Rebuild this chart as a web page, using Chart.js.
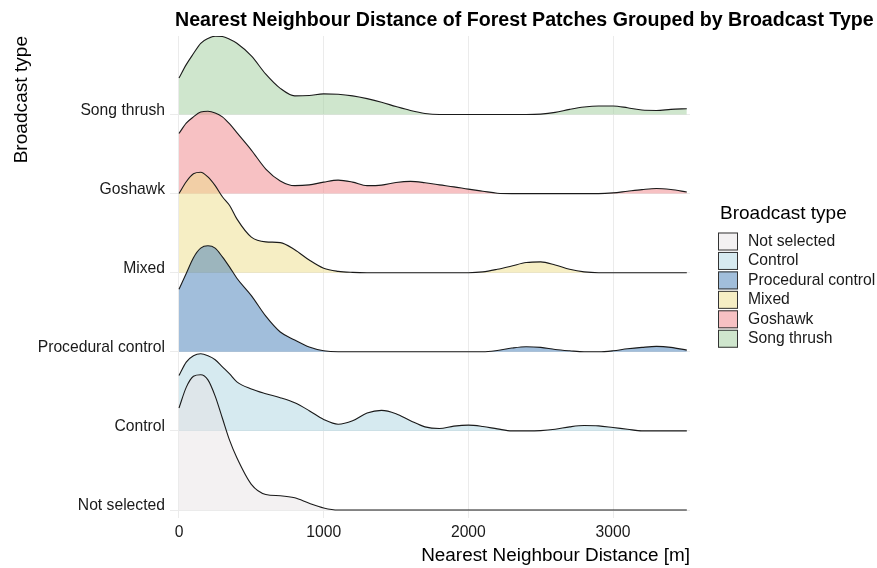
<!DOCTYPE html>
<html>
<head>
<meta charset="utf-8">
<title>Nearest Neighbour Distance of Forest Patches</title>
<script src="https://cdn.jsdelivr.net/npm/chart.js@4.4.1/dist/chart.umd.min.js"></script>
<style>
  html, body { margin: 0; padding: 0; background: #ffffff; }
  #wrap { width: 877px; height: 568px; }
</style>
</head>
<body>
<div id="wrap"><canvas id="ridges" width="877" height="568"></canvas></div>
<script>
// Broadcast types, bottom ridge first
const broadcastTypes = ['Not selected', 'Control', 'Procedural control', 'Mixed', 'Goshawk', 'Song thrush'];

// Sample positions along the distance axis [m]
const distance = [0, 50, 100, 150, 200, 250, 300, 350, 400, 500, 600, 700, 800, 900, 1000,
  1100, 1200, 1300, 1400, 1500, 1600, 1700, 1800, 1900, 2000, 2100, 2200, 2300, 2400, 2500,
  2600, 2700, 2800, 2900, 3000, 3100, 3200, 3300, 3400, 3510];

// Scaled density heights of each ridge (1 = one row of spacing)
const notSelected = [1.29, 1.55, 1.69, 1.71, 1.645, 1.44, 1.16, 0.88, 0.66, 0.325, 0.197, 0.18, 0.154, 0.085, 0.026,
  0, 0, 0, 0, 0, 0, 0, 0, 0, 0, 0, 0, 0, 0, 0, 0, 0, 0, 0, 0, 0, 0, 0, 0, 0];
const control = [0.70, 0.87, 0.95, 0.975, 0.95, 0.90, 0.81, 0.72, 0.62, 0.53, 0.47, 0.42, 0.355, 0.256, 0.145,
  0.085, 0.128, 0.226, 0.26, 0.218, 0.128, 0.051, 0.03, 0.06, 0.073, 0.056, 0.026, 0, 0, 0.004,
  0.021, 0.051, 0.068, 0.064, 0.043, 0.021, 0, 0, 0, 0];
const proceduralControl = [0.79, 0.99, 1.19, 1.31, 1.34, 1.31, 1.20, 1.07, 0.93, 0.71, 0.45, 0.25, 0.15, 0.06, 0.013,
  0, 0, 0, 0, 0, 0, 0, 0, 0, 0, 0, 0.017, 0.047, 0.064, 0.056,
  0.03, 0.013, 0, 0, 0.013, 0.038, 0.056, 0.068, 0.056, 0.021];
const mixed = [1.0, 1.15, 1.25, 1.27, 1.21, 1.10, 0.96, 0.85, 0.68, 0.45, 0.39, 0.38, 0.29, 0.16, 0.056,
  0.017, 0.004, 0, 0, 0, 0, 0, 0, 0, 0, 0.01, 0.043, 0.085, 0.128, 0.137,
  0.098, 0.043, 0.01, 0, 0, 0, 0, 0, 0, 0];
const goshawk = [0.76, 0.89, 0.97, 1.03, 1.04, 1.02, 0.97, 0.88, 0.77, 0.55, 0.31, 0.16, 0.10, 0.11, 0.145,
  0.17, 0.145, 0.10, 0.107, 0.14, 0.154, 0.137, 0.11, 0.085, 0.056, 0.03, 0.005, 0, 0, 0,
  0, 0, 0, 0, 0.009, 0.03, 0.05, 0.064, 0.051, 0.021];
const songThrush = [0.46, 0.63, 0.77, 0.90, 0.96, 0.99, 0.985, 0.95, 0.90, 0.74, 0.51, 0.33, 0.235, 0.24, 0.26,
  0.255, 0.235, 0.20, 0.155, 0.10, 0.05, 0.013, 0, 0, 0, 0, 0, 0, 0, 0.005,
  0.026, 0.064, 0.094, 0.107, 0.107, 0.085, 0.056, 0.051, 0.064, 0.073];

// Tick labels on the distance axis
const distanceTicks = [0, 1000, 2000, 3000];

const heights = [notSelected, control, proceduralControl, mixed, goshawk, songThrush];
const fills = [
  'rgba(231,227,229,0.5)',
  'rgba(173,213,225,0.5)',
  'rgba(67,125,183,0.5)',
  'rgba(237,221,137,0.5)',
  'rgba(239,131,135,0.5)',
  'rgba(159,205,155,0.5)'
];

const FONT = '"Liberation Sans", Arial, Helvetica, sans-serif';
const chartTitle = 'Nearest Neighbour Distance of Forest Patches Grouped by Broadcast Type';
const keyTitle = 'Broadcast type';

// Each ridge sits on its own row; row k has its baseline at y = k
const datasets = broadcastTypes.map((name, i) => {
  const base = i + 1;
  return {
    label: name,
    data: distance.map((d, j) => ({ x: d, y: base + heights[i][j] })),
    backgroundColor: fills[i],
    borderColor: '#1a1a1a',
    borderWidth: 1.1,
    pointRadius: 0,
    pointHoverRadius: 0,
    cubicInterpolationMode: 'monotone',
    fill: { value: base }
  };
});

// Title above the panel and the key on the right
const titleAndKey = {
  id: 'titleAndKey',
  afterDraw(chart) {
    const ctx = chart.ctx;
    ctx.save();
    ctx.textAlign = 'left';
    ctx.fillStyle = '#000000';
    ctx.textBaseline = 'alphabetic';
    ctx.font = 'bold 19.6px ' + FONT;
    ctx.fillText(chartTitle, 175, 26);

    ctx.textBaseline = 'middle';
    ctx.font = '19px ' + FONT;
    ctx.fillText(keyTitle, 720, 214);

    ctx.font = '15.7px ' + FONT;
    chart.data.datasets.forEach((ds, i) => {
      const cy = 241.5 + i * 19.45;
      ctx.fillStyle = '#ffffff';
      ctx.fillRect(718, cy - 9, 20, 18);
      ctx.fillStyle = ds.backgroundColor;
      ctx.fillRect(718, cy - 9, 20, 18);
      ctx.strokeStyle = '#333333';
      ctx.lineWidth = 1;
      ctx.strokeRect(718.5, cy - 8.5, 19, 17);
      ctx.fillStyle = '#1a1a1a';
      ctx.fillText(ds.label, 748, cy);
    });
    ctx.restore();
  }
};

new Chart(document.getElementById('ridges'), {
  type: 'line',
  data: { datasets },
  plugins: [titleAndKey],
  options: {
    responsive: false,
    devicePixelRatio: 1,
    animation: false,
    events: [],
    layout: { padding: { left: 0, right: 187, top: 36, bottom: 0 } },
    plugins: {
      legend: { display: false },
      title: { display: false },
      tooltip: { enabled: false }
    },
    scales: {
      x: {
        type: 'linear',
        min: -62.2,
        max: 3532,
        afterBuildTicks(scale) { scale.ticks = distanceTicks.map(v => ({ value: v })); },
        afterFit(scale) { scale.height = 50; },
        grid: { color: '#ebebeb', lineWidth: 1, drawTicks: false },
        border: { display: false },
        ticks: {
          padding: 5,
          color: '#1a1a1a',
          font: { family: FONT, size: 15.7 },
          maxRotation: 0,
          callback: v => String(v)
        },
        title: {
          display: true,
          text: 'Nearest Neighbour Distance [m]',
          align: 'end',
          color: '#000000',
          font: { family: FONT, size: 18.9 },
          padding: { top: 0, bottom: 1 }
        }
      },
      y: {
        type: 'linear',
        min: 0.899,
        max: 6.992,
        afterBuildTicks(scale) { scale.ticks = broadcastTypes.map((_, i) => ({ value: i + 1 })); },
        afterFit(scale) { scale.width = 170; },
        grid: { color: '#ebebeb', lineWidth: 1, drawTicks: false },
        border: { display: false },
        ticks: {
          padding: 5,
          labelOffset: -4,
          color: '#1a1a1a',
          font: { family: FONT, size: 15.7 },
          callback: v => broadcastTypes[v - 1]
        },
        title: {
          display: true,
          text: 'Broadcast type',
          align: 'end',
          color: '#000000',
          font: { family: FONT, size: 19.1 },
          padding: { top: 10, bottom: 0 }
        }
      }
    }
  }
});
</script>
</body>
</html>
